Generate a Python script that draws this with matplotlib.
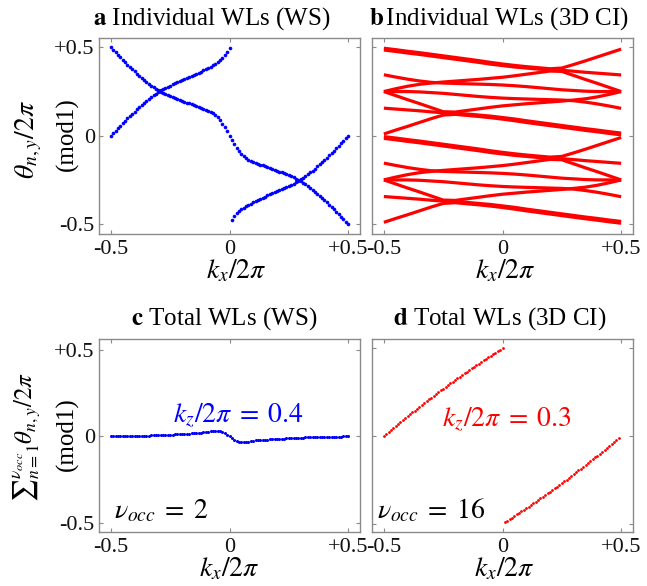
import matplotlib
matplotlib.use("Agg")
import matplotlib.pyplot as plt
import numpy as np

plt.rcParams['font.family'] = ['Liberation Serif', 'DejaVu Serif']
plt.rcParams['mathtext.fontset'] = 'stix'

# ---------------- shared tick labels ----------------
xticks = [-0.5, 0.0, 0.5]
xtick_labels = ['-0.5', '0', '+0.5']
yticks = [-0.5, 0.0, 0.5]
ytick_labels = ['-0.5', '0', '+0.5']

# ---------------- panel a: individual WLs (WS), 2 bands ----------------
ka_neg = np.linspace(-0.5, 0.0, 51)
ka_pos = np.linspace(0.01, 0.5, 50)
wsA_neg = [0.500, 0.486, 0.472, 0.458, 0.444, 0.430, 0.416, 0.403, 0.390, 0.377,
           0.364, 0.351, 0.339, 0.327, 0.316, 0.305, 0.294, 0.284, 0.274, 0.265,
           0.257, 0.250, 0.243, 0.236, 0.230, 0.224, 0.218, 0.213, 0.208, 0.203,
           0.198, 0.193, 0.188, 0.183, 0.178, 0.173, 0.168, 0.163, 0.158, 0.153,
           0.148, 0.142, 0.135, 0.127, 0.117, 0.104, 0.088, 0.069, 0.048, 0.024,
           0.000]
wsA_pos = [-0.024, -0.048, -0.069, -0.088, -0.104, -0.117, -0.127, -0.135, -0.142, -0.148,
           -0.153, -0.158, -0.163, -0.168, -0.173, -0.178, -0.183, -0.188, -0.193, -0.198,
           -0.203, -0.208, -0.213, -0.218, -0.224, -0.230, -0.236, -0.243, -0.250, -0.257,
           -0.265, -0.274, -0.284, -0.294, -0.305, -0.316, -0.327, -0.339, -0.351, -0.364,
           -0.377, -0.390, -0.403, -0.416, -0.430, -0.444, -0.458, -0.472, -0.486, -0.500]
wsB_neg = [0.000, 0.014, 0.028, 0.042, 0.056, 0.070, 0.084, 0.098, 0.111, 0.124,
           0.137, 0.150, 0.162, 0.174, 0.186, 0.197, 0.208, 0.219, 0.229, 0.238,
           0.247, 0.256, 0.264, 0.271, 0.278, 0.284, 0.290, 0.296, 0.302, 0.308,
           0.314, 0.320, 0.326, 0.332, 0.338, 0.344, 0.350, 0.356, 0.363, 0.370,
           0.377, 0.384, 0.391, 0.399, 0.407, 0.416, 0.426, 0.439, 0.454, 0.474,
           0.498]
wsB_pos = [-0.474, -0.454, -0.439, -0.426, -0.416, -0.407, -0.399, -0.391, -0.384, -0.377,
           -0.370, -0.363, -0.356, -0.350, -0.344, -0.338, -0.332, -0.326, -0.320, -0.314,
           -0.308, -0.302, -0.296, -0.290, -0.284, -0.278, -0.271, -0.264, -0.256, -0.247,
           -0.238, -0.229, -0.219, -0.208, -0.197, -0.186, -0.174, -0.162, -0.150, -0.137,
           -0.124, -0.111, -0.098, -0.084, -0.070, -0.056, -0.042, -0.028, -0.014, 0.000]

# ---------------- panel b: individual WLs (3D CI), 16 bands ----------------
kb = np.linspace(-0.5, 0.5, 21)
ci_bands = {
    'A1':  [0.495, 0.487, 0.478, 0.470, 0.461, 0.452, 0.443, 0.434, 0.425, 0.415, 0.406,
            0.398, 0.391, 0.385, 0.379, 0.383, 0.403, 0.424, 0.446, 0.468, 0.490],
    'A2':  [0.485, 0.477, 0.468, 0.460, 0.451, 0.442, 0.433, 0.424, 0.415, 0.405, 0.397,
            0.389, 0.383, 0.377, 0.372, 0.370, 0.365, 0.359, 0.354, 0.349, 0.344],
    'A3':  [0.250, 0.266, 0.280, 0.291, 0.298, 0.304, 0.309, 0.314, 0.319, 0.325, 0.331,
            0.339, 0.348, 0.357, 0.366, 0.364, 0.341, 0.318, 0.296, 0.273, 0.250],
    'Q1':  [0.010, 0.032, 0.053, 0.075, 0.097, 0.117, 0.121, 0.115, 0.109, 0.102, 0.094,
            0.085, 0.075, 0.066, 0.057, 0.048, 0.039, 0.030, 0.022, 0.013, 0.005],
    'Q2':  [0.156, 0.151, 0.146, 0.141, 0.135, 0.130, 0.128, 0.123, 0.117, 0.111, 0.103,
            0.095, 0.085, 0.076, 0.067, 0.058, 0.049, 0.040, 0.032, 0.023, 0.015],
    'Q3':  [0.250, 0.227, 0.204, 0.182, 0.159, 0.136, 0.134, 0.143, 0.152, 0.161, 0.169,
            0.175, 0.181, 0.186, 0.191, 0.196, 0.202, 0.209, 0.220, 0.234, 0.250],
    'C1':  [0.345, 0.332, 0.320, 0.310, 0.302, 0.298, 0.296, 0.294, 0.292, 0.290, 0.287,
            0.283, 0.278, 0.272, 0.266, 0.260, 0.256, 0.252, 0.250, 0.250, 0.250],
    'C2':  [0.250, 0.250, 0.250, 0.248, 0.244, 0.240, 0.234, 0.228, 0.222, 0.217, 0.213,
            0.210, 0.208, 0.206, 0.204, 0.202, 0.198, 0.190, 0.180, 0.168, 0.155],
    'A1b': [-0.005, -0.013, -0.022, -0.030, -0.039, -0.048, -0.057, -0.066, -0.075, -0.085, -0.094,
            -0.102, -0.109, -0.115, -0.121, -0.117, -0.097, -0.076, -0.054, -0.032, -0.010],
    'A2b': [-0.015, -0.023, -0.032, -0.040, -0.049, -0.058, -0.067, -0.076, -0.085, -0.095, -0.103,
            -0.111, -0.117, -0.123, -0.128, -0.130, -0.135, -0.141, -0.146, -0.151, -0.156],
    'A3b': [-0.250, -0.234, -0.220, -0.209, -0.202, -0.196, -0.191, -0.186, -0.181, -0.175, -0.169,
            -0.161, -0.152, -0.143, -0.134, -0.136, -0.159, -0.182, -0.204, -0.227, -0.250],
    'Q1b': [-0.490, -0.468, -0.447, -0.425, -0.403, -0.383, -0.379, -0.385, -0.391, -0.398, -0.406,
            -0.415, -0.425, -0.434, -0.443, -0.452, -0.461, -0.470, -0.478, -0.487, -0.495],
    'Q2b': [-0.344, -0.349, -0.354, -0.359, -0.365, -0.370, -0.372, -0.377, -0.383, -0.389, -0.397,
            -0.405, -0.415, -0.424, -0.433, -0.442, -0.451, -0.460, -0.468, -0.477, -0.485],
    'Q3b': [-0.250, -0.273, -0.296, -0.318, -0.341, -0.364, -0.366, -0.357, -0.348, -0.339, -0.331,
            -0.325, -0.319, -0.314, -0.309, -0.304, -0.298, -0.291, -0.280, -0.266, -0.250],
    'C1b': [-0.155, -0.168, -0.180, -0.190, -0.198, -0.202, -0.204, -0.206, -0.208, -0.210, -0.213,
            -0.217, -0.222, -0.228, -0.234, -0.240, -0.244, -0.248, -0.250, -0.250, -0.250],
    'C2b': [-0.250, -0.250, -0.250, -0.252, -0.256, -0.260, -0.266, -0.272, -0.278, -0.283, -0.287,
            -0.290, -0.292, -0.294, -0.296, -0.298, -0.302, -0.310, -0.320, -0.332, -0.345],
}

# ---------------- panel c: total WL (WS), kz/2pi = 0.4 ----------------
kc_neg = np.linspace(-0.5, 0.0, 51)
kc_pos = np.linspace(0.01, 0.5, 50)
tot_ws_neg = [0.000, 0.000, 0.000, 0.001, 0.001, 0.001, 0.001, 0.002, 0.002, 0.002,
              0.003, 0.003, 0.003, 0.004, 0.004, 0.005, 0.005, 0.006, 0.006, 0.007,
              0.007, 0.008, 0.008, 0.009, 0.010, 0.010, 0.011, 0.012, 0.013, 0.013,
              0.014, 0.015, 0.016, 0.017, 0.018, 0.019, 0.020, 0.021, 0.022, 0.023,
              0.025, 0.027, 0.030, 0.033, 0.034, 0.034, 0.032, 0.028, 0.021, 0.011,
              0.000]
tot_ws_pos = [-0.011, -0.021, -0.028, -0.032, -0.034, -0.034, -0.033, -0.030, -0.027, -0.025,
              -0.023, -0.022, -0.021, -0.020, -0.019, -0.018, -0.017, -0.016, -0.015, -0.014,
              -0.013, -0.013, -0.012, -0.011, -0.010, -0.010, -0.009, -0.008, -0.008, -0.007,
              -0.007, -0.006, -0.006, -0.005, -0.005, -0.004, -0.004, -0.003, -0.003, -0.003,
              -0.002, -0.002, -0.002, -0.001, -0.001, -0.001, -0.001, 0.000, 0.000, 0.000]

# ---------------- panel d: total WL (3D CI), kz/2pi = 0.3 ----------------
kd_neg = np.linspace(-0.5, 0.0, 51)
kd_pos = np.linspace(0.01, 0.49, 49)
tot_ci_neg = [0.000, 0.012, 0.023, 0.034, 0.046, 0.057, 0.068, 0.079, 0.090, 0.101,
              0.112, 0.123, 0.134, 0.144, 0.155, 0.166, 0.176, 0.187, 0.197, 0.208,
              0.218, 0.228, 0.239, 0.249, 0.259, 0.269, 0.279, 0.289, 0.299, 0.308,
              0.318, 0.328, 0.337, 0.347, 0.356, 0.366, 0.375, 0.384, 0.394, 0.403,
              0.412, 0.421, 0.430, 0.439, 0.448, 0.457, 0.466, 0.474, 0.483, 0.492,
              0.500]
tot_ci_pos = [-0.492, -0.483, -0.474, -0.466, -0.457, -0.448, -0.439, -0.430, -0.421, -0.412,
              -0.403, -0.394, -0.384, -0.375, -0.366, -0.356, -0.347, -0.337, -0.328, -0.318,
              -0.308, -0.299, -0.289, -0.279, -0.269, -0.259, -0.249, -0.239, -0.228, -0.218,
              -0.208, -0.197, -0.187, -0.176, -0.166, -0.155, -0.144, -0.134, -0.123, -0.112,
              -0.101, -0.090, -0.079, -0.068, -0.057, -0.046, -0.034, -0.023, -0.012]

# ---------------- figure ----------------
W, H = 647, 586
fig = plt.figure(figsize=(W / 100, H / 100), dpi=100)
fig.patch.set_facecolor('white')


def add_ax(l, r, t, b):
    return fig.add_axes([l / W, 1 - b / H, (r - l) / W, (b - t) / H])


axa = add_ax(99, 360, 38, 234)
axb = add_ax(372, 633, 38, 234)
axc = add_ax(99, 360, 339, 532)
axd = add_ax(372, 633, 339, 532)

GRAY = '#8a8a8a'


def style(ax, ylim, show_y):
    ax.set_xlim(-0.55, 0.55)
    ax.set_ylim(*ylim)
    ax.set_xticks(xticks)
    ax.set_xticklabels(xtick_labels)
    ax.set_yticks(yticks)
    ax.set_yticklabels(ytick_labels if show_y else [])
    ax.tick_params(direction='in', length=3, width=0.8, color=GRAY,
                   top=True, right=True, labelsize=16, pad=3, labelcolor='#111111')
    ax.tick_params(axis='x', pad=4)
    for s in ax.spines.values():
        s.set_color(GRAY)
        s.set_linewidth(1.0)


# panel a
dot_a = dict(ms=2.6, color='#0000ff', mec='none', ls='none', marker='o')
axa.plot(ka_neg, wsA_neg, **dot_a)
axa.plot(ka_pos, wsA_pos, **dot_a)
axa.plot(ka_neg, wsB_neg, **dot_a)
axa.plot(ka_pos, wsB_pos, **dot_a)
style(axa, (-0.556, 0.553), True)

# panel b
for name, vals in ci_bands.items():
    axb.plot(kb, vals, '-', color='#ff0000', lw=2.3, solid_capstyle='butt')
style(axb, (-0.556, 0.553), False)

# panel c
axc.plot(kc_neg, tot_ws_neg, 'o', ms=2.2, color='#0000ff', mec='none')
axc.plot(kc_pos, tot_ws_pos, 'o', ms=2.2, color='#0000ff', mec='none')
style(axc, (-0.552, 0.563), True)

# panel d
axd.plot(kd_neg, tot_ci_neg, 'o', ms=2.0, color='#ff0000', mec='none')
axd.plot(kd_pos, tot_ci_pos, 'o', ms=2.0, color='#ff0000', mec='none')
style(axd, (-0.548, 0.552), False)

# titles
title_kw = dict(ha='center', va='baseline', fontsize=18, math_fontfamily='stix')
axa.text(0.433, 1.066, r'$\mathbf{a}$ Individual WLs (WS)', transform=axa.transAxes, **title_kw)
axb.text(0.487, 1.066, r'$\mathbf{b}\,$Individual WLs (3D CI)', transform=axb.transAxes, **title_kw)
axc.text(0.479, 1.073, r'$\mathbf{c}$ Total WLs (WS)', transform=axc.transAxes, **title_kw)
axd.text(0.490, 1.073, r'$\mathbf{d}$ Total WLs (3D CI)', transform=axd.transAxes, **title_kw)

# x labels
for ax, xc, yb in ((axa, 0.525, -0.225), (axb, 0.512, -0.225),
                   (axc, 0.50, -0.228), (axd, 0.506, -0.228)):
    ax.text(xc, yb, r'$k_x/2\pi$', transform=ax.transAxes, ha='center',
            va='baseline', fontsize=20)


# y labels
def ftext(x, y, s, **kw):
    fig.text(x / W, 1 - y / H, s, rotation=90, ha='center', va='center', **kw)


ftext(29, 140, r'$\theta_{n,y}/2\pi$', fontsize=20)
ftext(67, 134, '(mod1)', fontsize=18)
ftext(27, 437, '$\u2211_{n=1}^{\\nu_{occ}}\\theta_{n,y}/2\\pi$', fontsize=18)
ftext(67, 434, '(mod1)', fontsize=18)

# annotations
axc.text(0.038, 0.083, r'$k_z/2\pi\;=\;0.4$', color='#0000ff', ha='center', va='baseline', fontsize=20)
axc.text(-0.487, -0.476, r'$\nu_{occ}\;=\;2$', color='black', ha='left', va='baseline', fontsize=20)
axd.text(0.018, 0.057, r'$k_z/2\pi\;=\;0.3$', color='#ff0000', ha='center', va='baseline', fontsize=20)
axd.text(-0.530, -0.468, r'$\nu_{occ}\;=\;16$', color='black', ha='left', va='baseline', fontsize=20)

fig.savefig('out.png', dpi=100)
